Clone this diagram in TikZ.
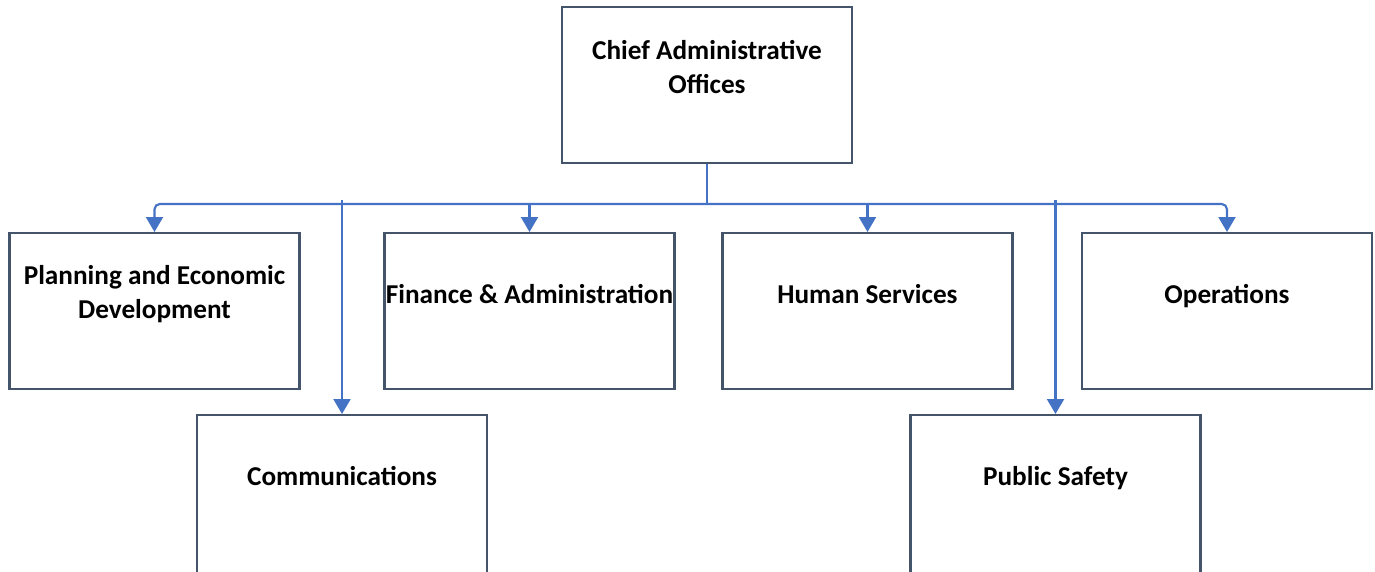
\documentclass[tikz,border=0pt]{standalone}
\usepackage{fontspec}
\setmainfont{Carlito}
\usetikzlibrary{arrows.meta}
\definecolor{boxcol}{HTML}{44546A}
\definecolor{linecol}{HTML}{4472C4}
\begin{document}
\begin{tikzpicture}[x=0.02cm,y=-0.02cm,
	box/.style={draw=boxcol,line width=1.2pt,minimum width=5.8cm,minimum height=3.12cm,inner sep=0pt,anchor=north},
	lowbox/.style={box,minimum height=3.3cm},
	lbl/.style={font=\fontsize{15.5}{19.3}\selectfont\bfseries,align=center,inner sep=0pt},
	conn/.style={draw=linecol,line width=1.2pt},
	arr/.style={conn,-{Triangle[width=0.34cm,length=0.3cm]}}]
			\useasboundingbox (0,0) rectangle (1375,571);
			\clip (0,0) rectangle (1375,571);
			\node[box] (chief) at (707,6) {};
			\node[box] (plan) at (154.5,232) {};
			\node[box] (fin) at (529.5,232) {};
			\node[box] (hum) at (867.5,232) {};
			\node[box] (ops) at (1227,232) {};
			\node[lowbox] (comm) at (342,414) {};
			\node[lowbox] (safe) at (1055.5,414) {};
			\node[lbl] (chiefT) at (707,67) {Chief Administrative\\Offices};
			\node[lbl] (planT) at (154.5,294) {Planning and Economic\\Development};
			\node[lbl] (finT) at (529.5,294) {Finance \& Administration};
			\node[lbl] (humT) at (867.5,294) {Human Services};
			\node[lbl] (opsT) at (1227,296) {Operations};
			\node[lbl] (commT) at (342,476) {Communications};
			\node[lbl] (safeT) at (1055.5,478) {Public Safety};
			\coordinate (bus) at (707,204);
			\coordinate (top) at (0,200);
			\draw[conn] (chief.south)--(bus);
			\draw[arr,rounded corners=3pt] (bus)-|(plan.north);
			\draw[arr] (bus)-|(fin.north);
			\draw[arr] (bus)-|(hum.north);
			\draw[arr,rounded corners=3pt] (bus)-|(ops.north);
			\draw[arr] (comm.north|-top)--(comm.north);
			\draw[arr] (safe.north|-top)--(safe.north);
		\end{tikzpicture}
\end{document}
